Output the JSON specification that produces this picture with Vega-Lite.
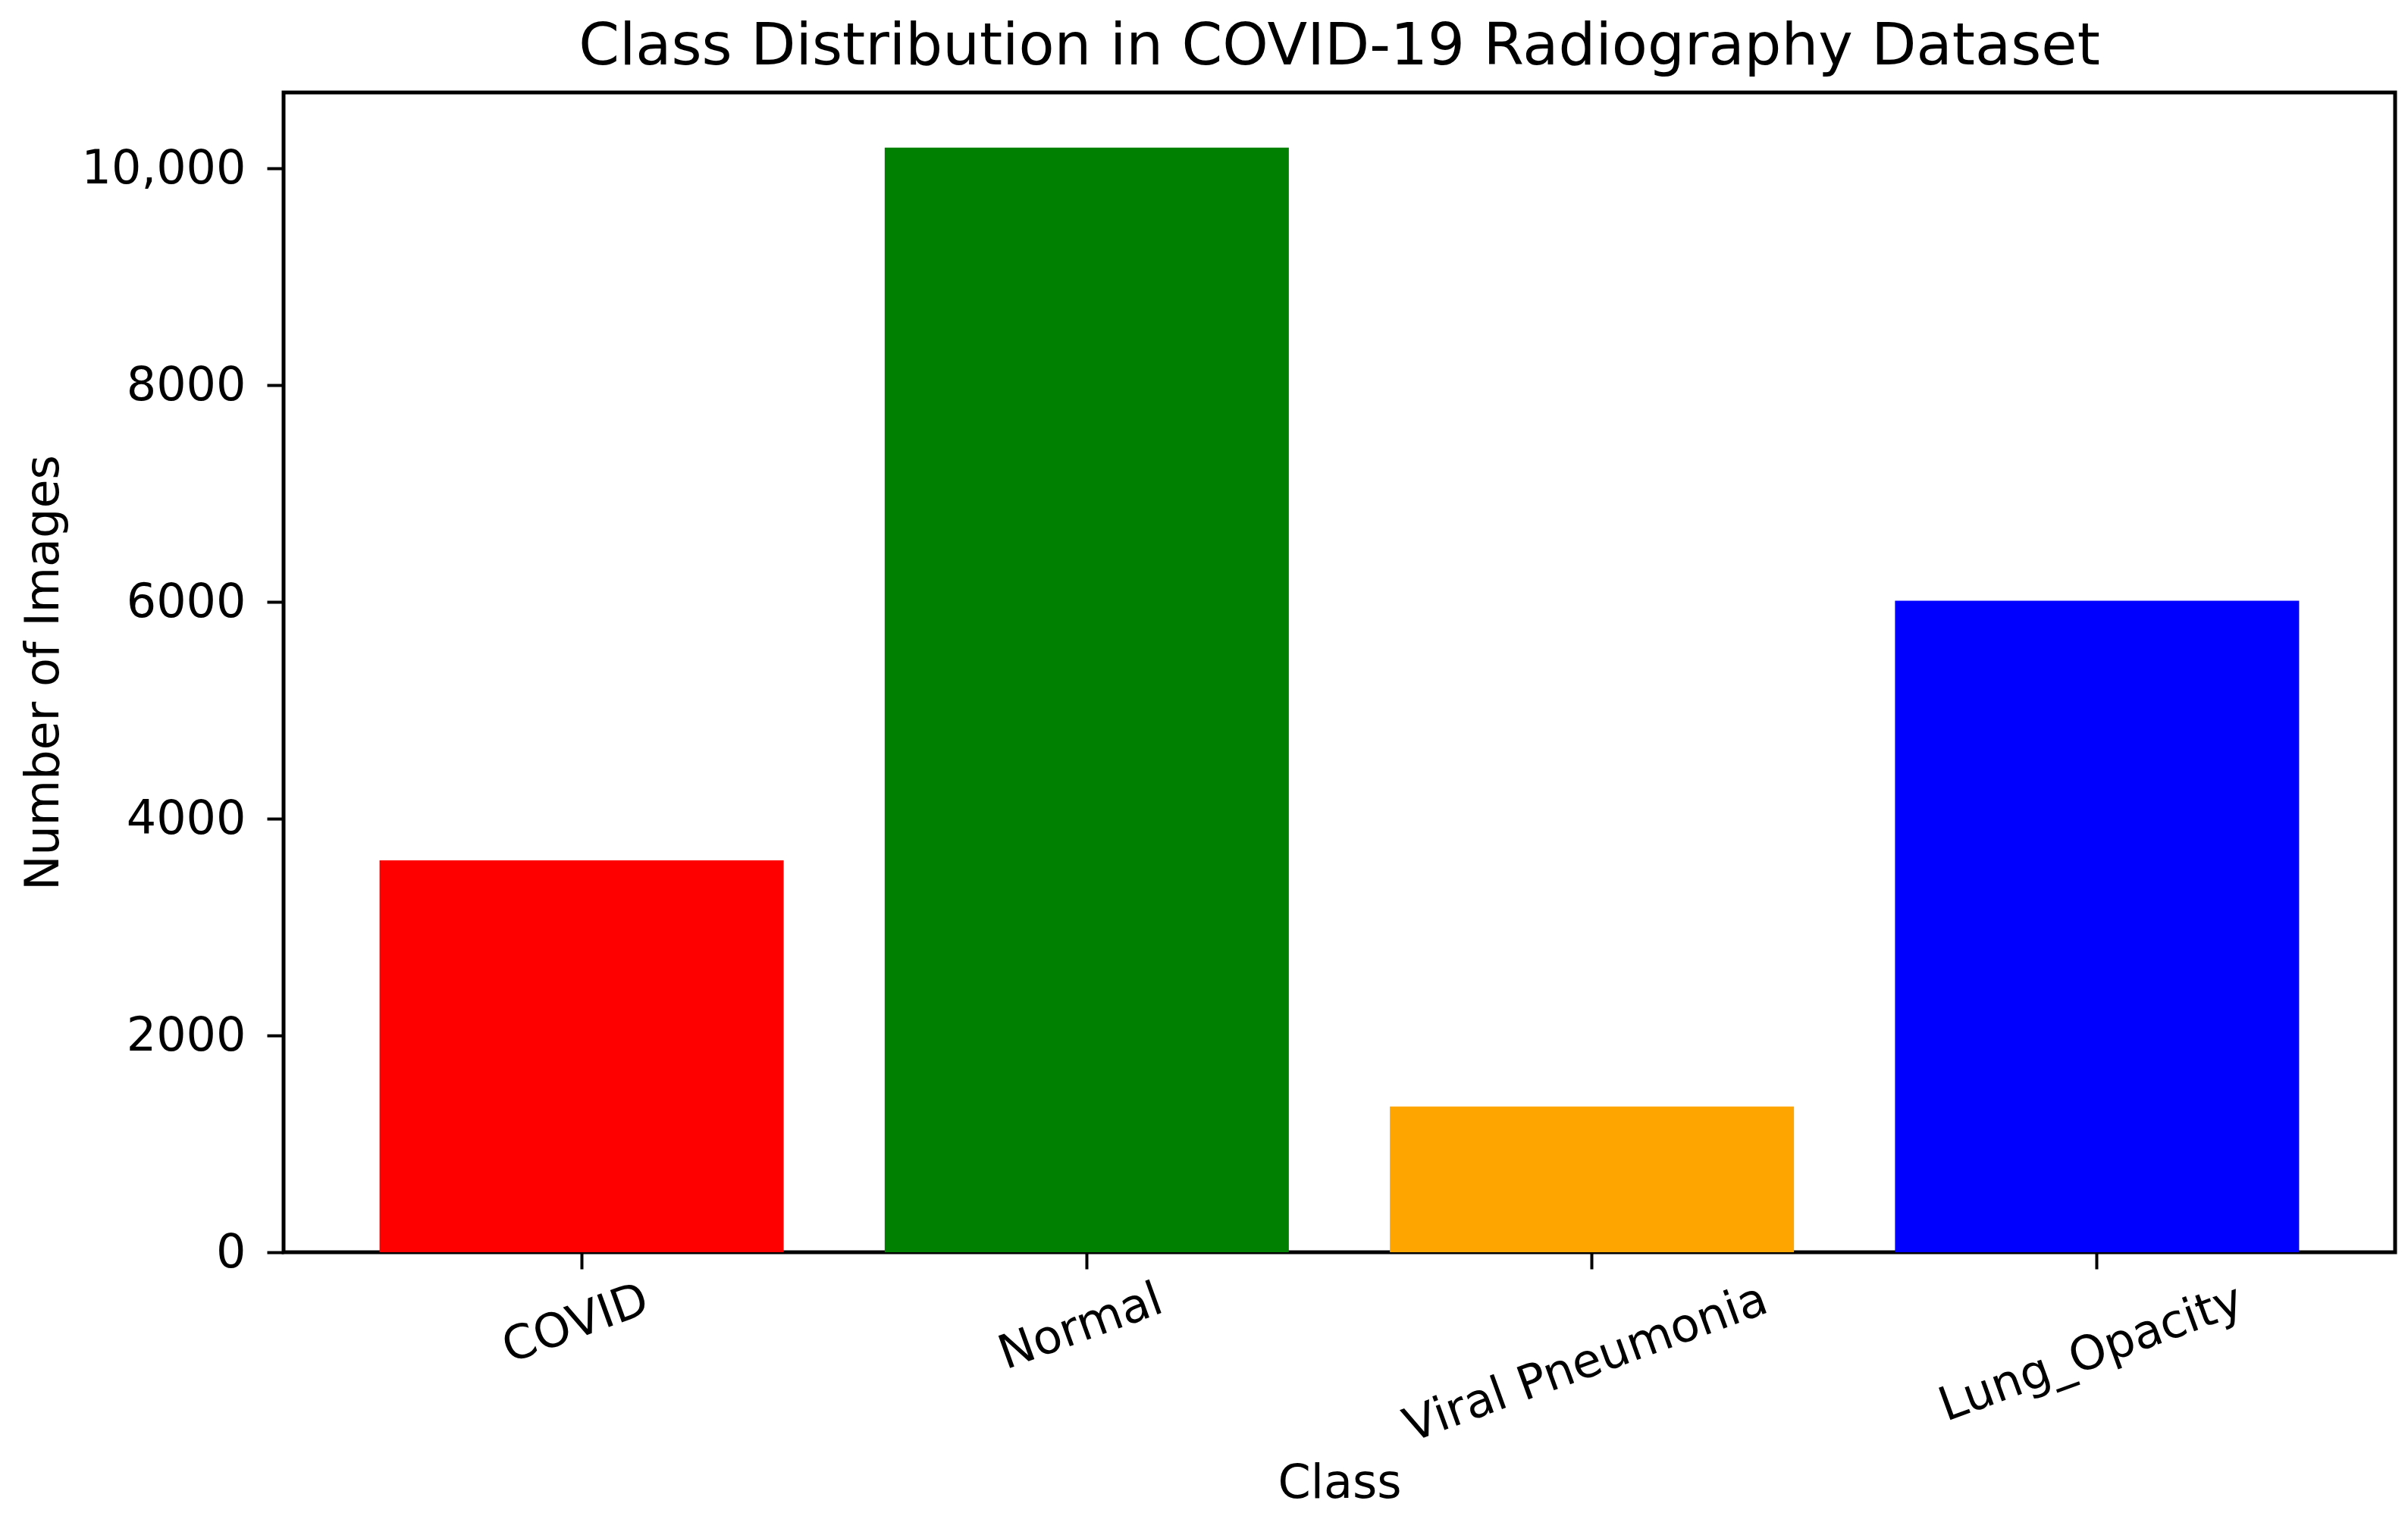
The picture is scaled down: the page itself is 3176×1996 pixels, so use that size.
{
  "$schema": "https://vega.github.io/schema/vega-lite/v6.json",
  "autosize": "none",
  "width": 2785,
  "height": 1530,
  "padding": {"left": 374, "top": 122, "right": 17, "bottom": 344},
  "background": "white",
  "config": {
    "font": "DejaVu Sans",
    "view": {"stroke": "black", "strokeWidth": 5},
    "axis": {
      "grid": false,
      "domain": false,
      "tickColor": "black",
      "tickSize": 22,
      "tickWidth": 4,
      "labelColor": "black",
      "labelFont": "DejaVu Sans",
      "labelFontSize": 62,
      "labelLimit": 0,
      "titleFont": "DejaVu Sans",
      "titleFontSize": 62,
      "titleFontWeight": "normal",
      "titleColor": "black"
    }
  },
  "title": {
    "text": "Class Distribution in COVID-19 Radiography Dataset",
    "font": "DejaVu Sans",
    "fontSize": 77,
    "fontWeight": "normal",
    "color": "black",
    "anchor": "middle",
    "baseline": "alphabetic",
    "offset": 37,
    "dy": 77,
    "limit": 0
  },
  "data": {
    "values": [
      {"Class": "COVID", "Count": 3616},
      {"Class": "Normal", "Count": 10192},
      {"Class": "Viral Pneumonia", "Count": 1345},
      {"Class": "Lung_Opacity", "Count": 6012}
    ]
  },
  "mark": {"type": "bar"},
  "encoding": {
    "x": {
      "field": "Class",
      "type": "nominal",
      "sort": null,
      "scale": {"paddingInner": 0.2, "paddingOuter": 0.19},
      "axis": {
        "title": "Class",
        "labelAngle": -20,
        "labelAlign": "center",
        "labelBaseline": "middle",
        "labelOffset": -8,
        "labelPadding": {
          "condition": [
            {"test": "datum.label == 'Viral Pneumonia'", "value": 124},
            {"test": "datum.label == 'Lung_Opacity'", "value": 111},
            {"test": "datum.label == 'Normal'", "value": 76}
          ],
          "value": 72
        },
        "titleBaseline": "alphabetic",
        "titleY": 323
      }
    },
    "y": {
      "field": "Count",
      "type": "quantitative",
      "scale": {"domain": [0, 10701.6], "nice": false, "zero": true},
      "axis": {
        "title": "Number of Images",
        "values": [0, 2000, 4000, 6000, 8000, 10000],
        "labelExpr": "datum.value >= 10000 ? format(datum.value, ',') : format(datum.value, 'd')",
        "labelPadding": 28,
        "titleBaseline": "middle",
        "titleX": -317
      }
    },
    "color": {
      "field": "Class",
      "type": "nominal",
      "scale": {
        "domain": ["COVID", "Normal", "Viral Pneumonia", "Lung_Opacity"],
        "range": ["#ff0000", "#008000", "#ffa500", "#0000ff"]
      },
      "legend": null
    }
  }
}
